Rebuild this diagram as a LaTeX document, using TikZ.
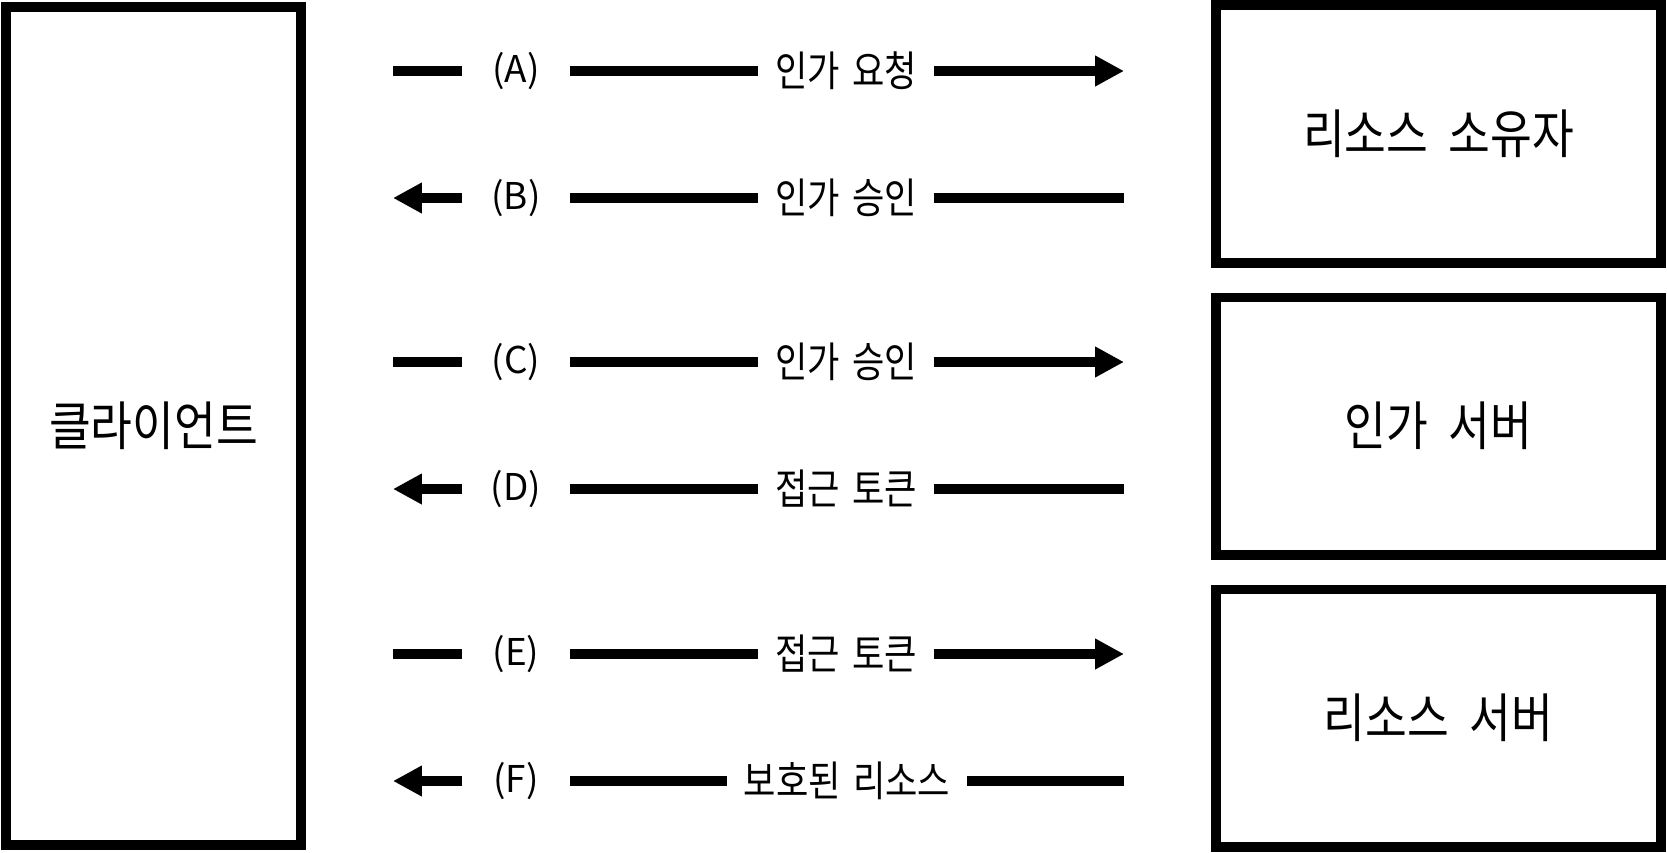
\documentclass[tikz,border=0pt]{standalone}
\usepackage{fontspec}
\setmainfont{Noto Sans CJK KR}
\newfontfamily\krs[FakeStretch=0.84,WordSpace=1.6]{Noto Sans CJK KR}
\newfontfamily\krb[FakeStretch=0.86,WordSpace=2]{Noto Sans CJK KR}
\usetikzlibrary{arrows.meta}
\tikzset{
  box/.style={draw=black, line width=10pt, inner sep=0pt, outer sep=0pt,
    font=\krb\fontsize{53}{60}\selectfont},
  sidebox/.style={box, minimum width=447pt, minimum height=258pt},
  tag/.style={inner sep=0pt, outer sep=0pt, minimum width=108pt, minimum height=30pt,
    font=\fontsize{37}{44}\selectfont},
  lbl/.style={inner xsep=17pt, inner ysep=0pt, outer sep=0pt,
    font=\krs\fontsize{42}{48}\selectfont},
  flow/.style={line width=10pt, draw=black},
  fwd/.style={flow, -{Triangle[length=29pt,width=29pt]}},
}
\begin{document}
\begin{tikzpicture}[x=1bp,y=-1bp]
\useasboundingbox (0,0) rectangle (1667,852);
\fill[white] (0,0) rectangle (1667,852);

% boxes
\node[box, minimum width=297pt, minimum height=842pt] (client) at (153.5,426) {클라이언트};
\node[sidebox] (owner) at (1438.5,134) {리소스 소유자};
\node[sidebox] (auth) at (1438.5,426) {인가 서버};
\node[sidebox] (res) at (1438.5,718) {리소스 서버};

% row A
\coordinate (lA) at (393,71);
\node[tag] (pA) at (516,71) {(A)};
\node[lbl] (tA) at (846,71) {인가 요청};
\coordinate (rA) at (1124,71);
\draw[flow] (lA) -- (pA);
\draw[flow] (pA) -- (tA);
\draw[fwd] (tA) -- (rA);

% row B
\coordinate (lB) at (393,198);
\node[tag] (pB) at (516,198) {(B)};
\node[lbl] (tB) at (846,198) {인가 승인};
\coordinate (rB) at (1124,198);
\draw[fwd] (pB) -- (lB);
\draw[flow] (pB) -- (tB);
\draw[flow] (tB) -- (rB);

% row C
\coordinate (lC) at (393,362);
\node[tag] (pC) at (516,362) {(C)};
\node[lbl] (tC) at (846,362) {인가 승인};
\coordinate (rC) at (1124,362);
\draw[flow] (lC) -- (pC);
\draw[flow] (pC) -- (tC);
\draw[fwd] (tC) -- (rC);

% row D
\coordinate (lD) at (393,489);
\node[tag] (pD) at (516,489) {(D)};
\node[lbl] (tD) at (846,489) {접근 토큰};
\coordinate (rD) at (1124,489);
\draw[fwd] (pD) -- (lD);
\draw[flow] (pD) -- (tD);
\draw[flow] (tD) -- (rD);

% row E
\coordinate (lE) at (393,654);
\node[tag] (pE) at (516,654) {(E)};
\node[lbl] (tE) at (846,654) {접근 토큰};
\coordinate (rE) at (1124,654);
\draw[flow] (lE) -- (pE);
\draw[flow] (pE) -- (tE);
\draw[fwd] (tE) -- (rE);

% row F
\coordinate (lF) at (393,781);
\node[tag] (pF) at (516,781) {(F)};
\node[lbl] (tF) at (847,781) {보호된 리소스};
\coordinate (rF) at (1124,781);
\draw[fwd] (pF) -- (lF);
\draw[flow] (pF) -- (tF);
\draw[flow] (tF) -- (rF);
\end{tikzpicture}
\end{document}
